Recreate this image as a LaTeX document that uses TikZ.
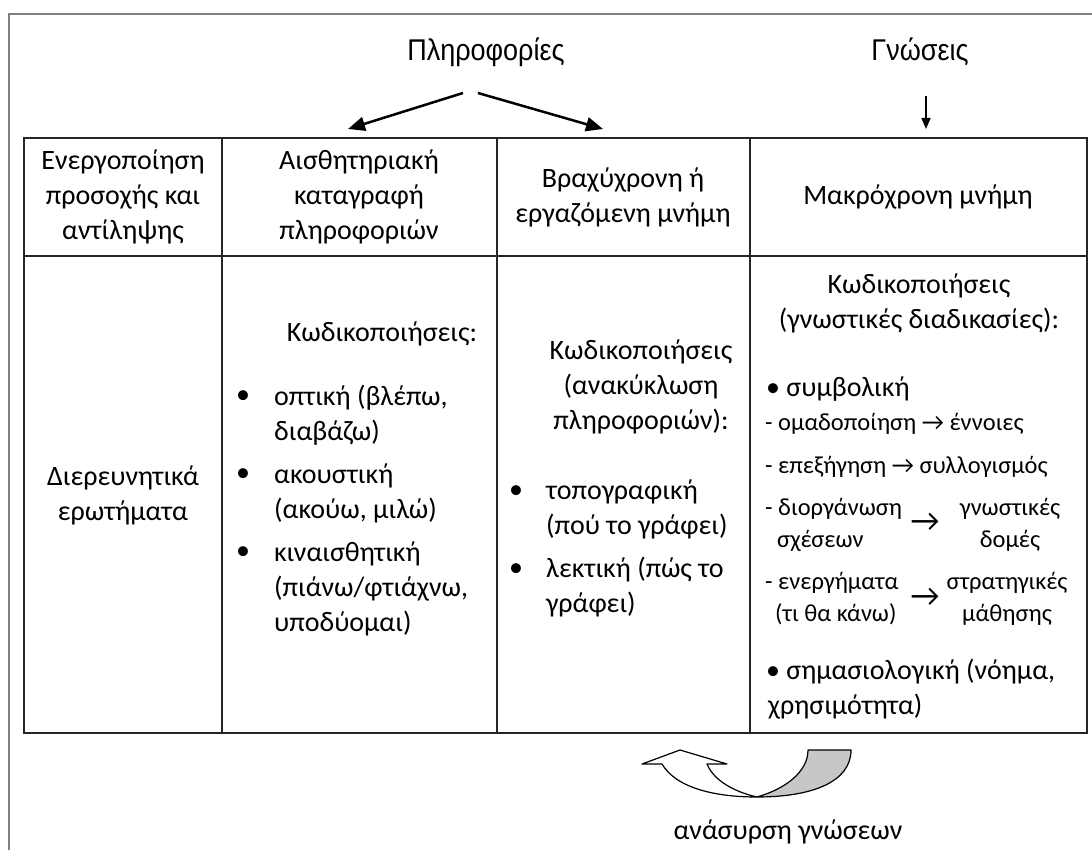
\documentclass[tikz,border=0pt]{standalone}
\usepackage{fontspec}
\setmainfont{Carlito}
\newfontfamily\narrowfont[FakeStretch=0.9]{Liberation Sans}
\usetikzlibrary{arrows.meta}

\begin{document}
\begin{tikzpicture}[x=1pt,y=-1pt,
  txt/.style={font=\fontsize{28}{35}\selectfont, align=center, inner sep=0pt},
  lst/.style={font=\fontsize{28}{35}\selectfont, align=left, inner sep=0pt, anchor=west},
  sub/.style={font=\fontsize{24.5}{32}\selectfont, align=left, inner sep=0pt, anchor=west},
  subc/.style={font=\fontsize{24.5}{32}\selectfont, align=center, inner sep=0pt},
  bigarr/.style={font=\fontsize{32}{32}\selectfont, inner sep=0pt},
  dot/.style={font=\fontsize{28}{35}\selectfont, inner sep=0pt},
  toplabel/.style={font=\narrowfont\fontsize{30}{34}\selectfont, inner sep=0pt},
  grid/.style={draw=black!85, line width=1.5pt},
  frame/.style={draw=black!50, line width=2pt},
  flow/.style={line width=2.5pt, -{Triangle[length=17pt,width=14pt]}},
  thinflow/.style={line width=1.6pt, -{Triangle[length=11pt,width=9pt]}},
  band/.style={draw=black, line width=1.2pt, line join=round},
]
\useasboundingbox (0,0) rectangle (1092,850);
\fill[white] (0,0) rectangle (1092,850);

% outer frame (open to the right and bottom)
\draw[frame] (9,852) -- (9,14) -- (1094,14);

% table grid
\draw[grid] (24,138) rectangle (1087,733);
\draw[grid] (24,256) -- (1087,256);
\foreach \x in {222,497,750} \draw[grid] (\x,138) -- (\x,733);

% labels above the table
\node[toplabel] (info) at (486,52) {Πληροφορίες};
\node[toplabel] (know) at (920,52) {Γνώσεις};
\coordinate (infoL) at (463,93);
\coordinate (infoR) at (478,93);
\coordinate (sens) at (348,129);
\coordinate (work) at (603,129);
\coordinate (knowS) at (926,96);
\coordinate (longm) at (926,129);
\draw[flow] (infoL) -- (sens);
\draw[flow] (infoR) -- (work);
\draw[thinflow] (knowS) -- (longm);

% header row
\node[txt] (h1) at (123,197) {Ενεργοποίηση\\προσοχής και\\αντίληψης};
\node[txt] (h2) at (359,197) {Αισθητηριακή\\καταγραφή\\πληροφοριών};
\node[txt] (h3) at (623,197) {Βραχύχρονη ή\\εργαζόμενη μνήμη};
\node[txt] (h4) at (918,197) {Μακρόχρονη μνήμη};

% column 1
\node[txt] (b1) at (123,495) {Διερευνητικά\\ερωτήματα};

% column 2
\node[txt] (c2h) at (382,334) {Κωδικοποιήσεις:};
\node[lst] (c2a) at (274,415) {οπτική (βλέπω,\\διαβάζω)};
\node[lst] (c2b) at (274,493) {ακουστική\\(ακούω, μιλώ)};
\node[lst] (c2c) at (274,589) {κιναισθητική\\(πιάνω/φτιάχνω,\\υποδύομαι)};
\node[dot] (d2a) at (243,397) {•};
\node[dot] (d2b) at (243,475) {•};
\node[dot] (d2c) at (243,553) {•};

% column 3
\node[txt] (c3h) at (641,387) {Κωδικοποιήσεις\\(ανακύκλωση\\πληροφοριών):};
\node[lst] (c3a) at (546,509) {τοπογραφική\\(πού το γράφει)};
\node[lst] (c3b) at (546,587) {λεκτική (πώς το\\γράφει)};
\node[dot] (d3a) at (516,492) {•};
\node[dot] (d3b) at (516,570) {•};

% column 4
\node[txt] (c4h) at (919,303) {Κωδικοποιήσεις\\(γνωστικές διαδικασίες):};
\node[lst] (sym) at (766,389) {• συμβολική};
\node[sub] (s1) at (765,424) {- ομαδοποίηση → έννοιες};
\node[sub] (s2) at (765,467) {- επεξήγηση → συλλογισμός};
\node[sub] (s3) at (765,525) {- διοργάνωση\\\hspace*{12pt}σχέσεων};
\node[bigarr] (a3) at (925,522) {→};
\node[subc] (s3r) at (1010,525) {γνωστικές\\δομές};
\node[sub] (s4) at (765,599) {- ενεργήματα\\\hspace*{10pt}(τι θα κάνω)};
\node[bigarr] (a4) at (925,597) {→};
\node[subc] (s4r) at (1007,599) {στρατηγικές\\μάθησης};
\node[lst] (sem) at (766,689) {• σημασιολογική (νόημα,\\\hspace*{2pt}χρησιμότητα)};

% retrieval U-turn arrow
\filldraw[band, fill=black!22]
  (808,750) -- (851,750)
  .. controls (851,782) and (812,797) .. (757,797)
  .. controls (785,789) and (808,772) .. (808,750) -- cycle;
\filldraw[band, fill=white]
  (707,764) -- (727,764) -- (680,750) -- (642,764) -- (662,764)
  .. controls (676,788) and (715,797) .. (757,797)
  .. controls (735,792) and (714,781) .. (707,764) -- cycle;
\node[txt] (ret) at (788,832) {ανάσυρση γνώσεων};
\end{tikzpicture}
\end{document}
